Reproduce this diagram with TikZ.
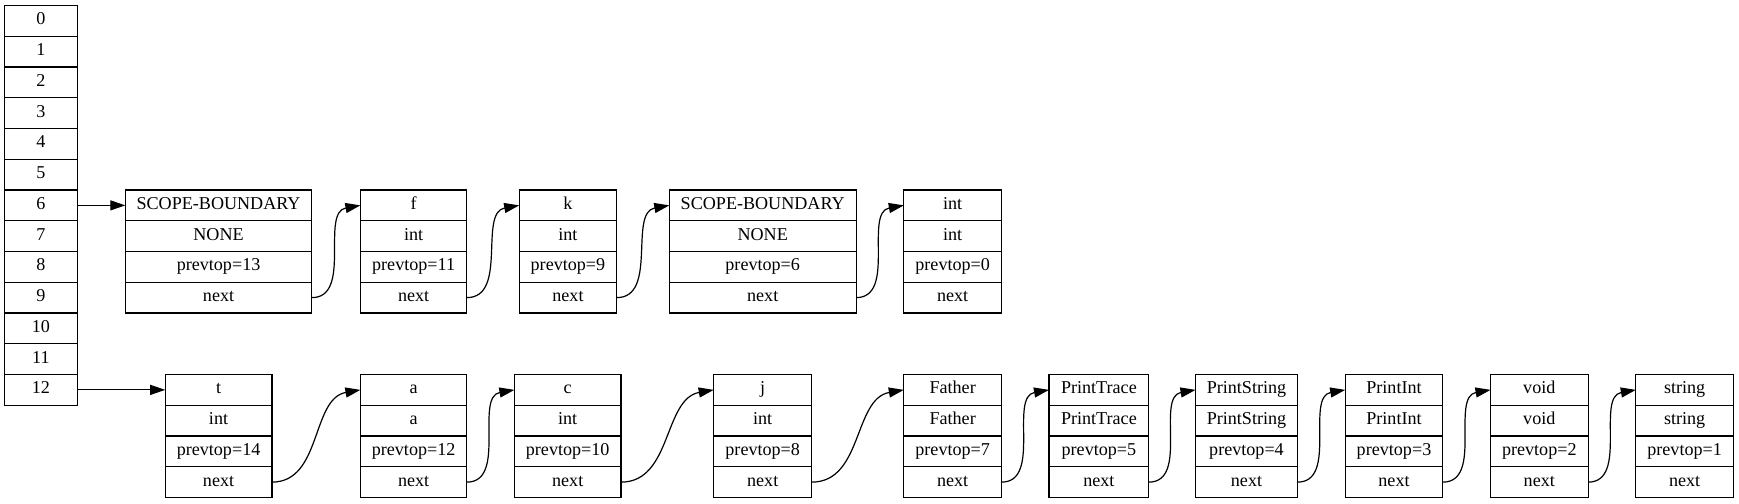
\documentclass[tikz,border=0pt]{standalone}
\usepackage{fontspec}
\setmainfont{Liberation Serif}
\usepackage{tikz}
\usetikzlibrary{positioning}
\usetikzlibrary{arrows.meta}

\tikzset{
    cell/.style={draw, rectangle, line width=1.2pt, minimum height=30.75pt,
        inner sep=0pt, outer sep=0pt, text height=12.4pt, text depth=4.2pt,
        font=\fontsize{18.1}{20}\selectfont},
    link/.style={-{Triangle[length=15pt,width=10pt]}, line width=1.2pt}
}

\begin{document}
\begin{tikzpicture}[x=1pt,y=-1pt]
        \useasboundingbox (0,0) rectangle (1739,503);

        %HASH TABLE
        \foreach \i in {0,...,12}
            \node[cell, minimum width=72.8pt, anchor=north west] (h\i) at (4.5,{5.5+30.75*\i}) {\i};

        %RECORDS
        \foreach \n/\x/\w/\y/\a/\b/\c in {
            sb1/125.3/186.5/190/SCOPE-BOUNDARY/NONE/prevtop=13,
            f/360.4/106.4/190/f/int/prevtop=11,
            k/519.2/97.5/190/k/int/prevtop=9,
            sb2/669.3/186.8/190/SCOPE-BOUNDARY/NONE/prevtop=6,
            int/903.8/97.7/190/int/int/prevtop=0,
            t/165.2/106.7/374.5/t/int/prevtop=14,
            a/360.4/106.4/374.5/a/a/prevtop=12,
            c/514.4/106.6/374.5/c/int/prevtop=10,
            j/713.7/98/374.5/j/int/prevtop=8,
            father/903.8/97.7/374.5/Father/Father/prevtop=7,
            ptrace/1049/99.8/374.5/PrintTrace/PrintTrace/prevtop=5,
            pstring/1195.5/102/374.5/PrintString/PrintString/prevtop=4,
            pint/1345.2/97.6/374.5/PrintInt/PrintInt/prevtop=3,
            void/1490.5/97.6/374.5/void/void/prevtop=2,
            string/1635.8/97.6/374.5/string/string/prevtop=1}
        {
            \node[cell, minimum width=\w pt, anchor=north west] (\n-0) at (\x,\y) {\a};
            \node[cell, minimum width=\w pt, below=0pt of \n-0] (\n-1) {\b};
            \node[cell, minimum width=\w pt, below=0pt of \n-1] (\n-2) {\c};
            \node[cell, minimum width=\w pt, below=0pt of \n-2] (\n-3) {next};
        }

        %POINTERS
        \draw[link] (h6.east) -- (sb1-0.west);
        \draw[link] (h12.east) -- (t-0.west);
        \foreach \s/\e in {sb1/f, f/k, k/sb2, sb2/int,
            t/a, a/c, c/j, j/father, father/ptrace, ptrace/pstring,
            pstring/pint, pint/void, void/string}
            \draw[link] (\s-3.east) to[out=0, in=190] (\e-0.west);
    \end{tikzpicture}
\end{document}
